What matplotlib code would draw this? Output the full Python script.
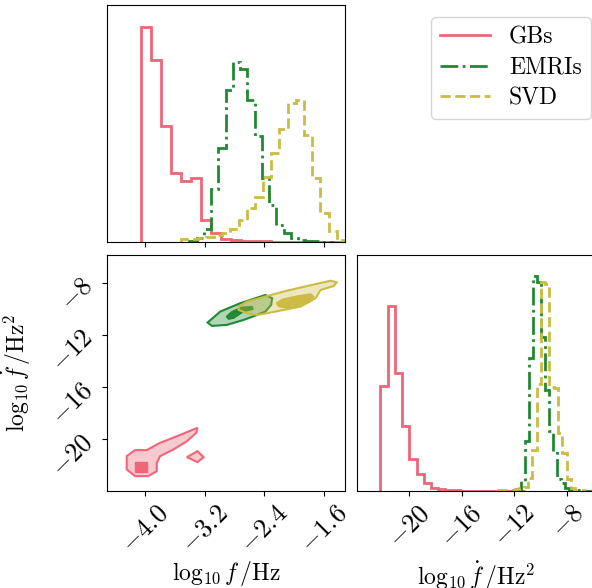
import numpy as np
import matplotlib
matplotlib.use("Agg")
import matplotlib.pyplot as plt

plt.rcParams.update({
    "font.family": "serif",
    "font.serif": ["cmr10"],
    "mathtext.fontset": "cm",
    "axes.formatter.use_mathtext": True,
    "axes.unicode_minus": False,
})

# ---------------------------------------------------------------------------
# Data
# ---------------------------------------------------------------------------

labels = ["GBs", "EMRIs", "SVD"]
colors = ["#EE6677", "#228833", "#CCBB44"]
styles = ["-", "-.", "--"]

f_ticks = [-4.0, -3.2, -2.4, -1.6]
fdot_ticks = [-20, -16, -12, -8]
f_lim = (-4.51, -1.32)
fdot_lim = (-23.95, -5.88)

# 1D histograms of log10 f (bin range, counts)
gb_f_range = (-4.058, -1.378)
gb_f_counts = [649, 547, 349, 209, 184, 192, 65, 27, 9, 5, 3, 2, 2, 1, 1, 1, 1, 0.5, 0.5, 0.5]
emri_f_range = (-3.405, -1.461)
emri_f_counts = [3, 12, 39, 159, 284, 457, 542, 522, 427, 319, 192, 112, 50, 27, 12, 5, 3, 2, 1, 1]
svd_f_range = (-3.516, -1.320)
svd_f_counts = [8, 9, 11, 15, 22, 27, 39, 67, 102, 137, 197, 267, 340, 420, 429, 322, 192, 87, 32, 7]

# 1D histograms of log10 fdot
gb_fdot_range = (-22.167, -11.207)
gb_fdot_counts = [317, 558, 355, 195, 97, 50, 23, 8, 5, 2, 2, 1, 1, 1, 1, 1, 1, 1, 0.5, 0.5]
emri_fdot_range = (-12.097, -6.08)
emri_fdot_counts = [2, 5, 30, 150, 400, 647, 630, 465, 305, 180, 120, 35, 25, 8, 4, 3, 2, 2, 1, 1]
svd_fdot_range = (-13.244, -6.743)
svd_fdot_counts = [2, 2, 2, 3, 5, 8, 12, 40, 125, 323, 630, 625, 315, 310, 175, 115, 35, 8, 3, 2]

# 2D credible contours (outer and inner region), in (log10 f, log10 fdot)
gb_outer_f = [-4.246, -4.134, -3.977, -3.798, -3.574, -3.297, -3.314, -3.439, -3.619,
              -3.798, -3.843, -3.843, -3.956, -4.134, -4.246]
gb_outer_fdot = [-21.28, -20.82, -20.82, -20.26, -19.76, -19.11, -19.50, -20.14, -20.77,
                 -21.28, -21.79, -22.43, -22.81, -22.81, -22.30]
gb_island_f = [-3.439, -3.297, -3.216, -3.297]
gb_island_fdot = [-21.36, -20.90, -21.36, -21.74]
gb_inner_f = [-4.134, -3.977, -3.977, -4.134]
gb_inner_fdot = [-21.74, -21.74, -22.50, -22.50]

emri_outer_f = [-3.162, -2.992, -2.723, -2.387, -2.296, -2.310, -2.387, -2.498, -2.678,
                -2.901, -3.103]
emri_outer_fdot = [-11.05, -10.21, -9.57, -8.94, -9.19, -9.70, -10.21, -10.47, -10.85,
                   -11.23, -11.31]
emri_inner_f = [-2.911, -2.834, -2.700, -2.565, -2.552, -2.678, -2.813, -2.880]
emri_inner_fdot = [-10.60, -10.21, -9.88, -9.83, -10.03, -10.21, -10.72, -10.79]

svd_outer_f = [-2.746, -2.633, -2.364, -2.095, -1.826, -1.513, -1.432, -1.468, -1.647,
               -1.714, -1.916, -2.095, -2.364, -2.498, -2.633, -2.746]
svd_outer_fdot = [-9.83, -9.45, -9.02, -8.61, -8.25, -7.85, -7.97, -8.25, -8.56,
                  -9.19, -9.83, -10.03, -10.34, -10.47, -10.34, -10.08]
svd_inner_f = [-2.239, -2.162, -1.960, -1.782, -1.737, -1.782, -1.916, -2.095, -2.208]
svd_inner_fdot = [-9.57, -9.27, -9.02, -8.86, -9.07, -9.45, -9.78, -9.95, -9.83]

f_hists = [(gb_f_range, gb_f_counts), (emri_f_range, emri_f_counts), (svd_f_range, svd_f_counts)]
fdot_hists = [(gb_fdot_range, gb_fdot_counts), (emri_fdot_range, emri_fdot_counts),
              (svd_fdot_range, svd_fdot_counts)]
outer_regions = [[(gb_outer_f, gb_outer_fdot), (gb_island_f, gb_island_fdot)],
                 [(emri_outer_f, emri_outer_fdot)],
                 [(svd_outer_f, svd_outer_fdot)]]
inner_regions = [[(gb_inner_f, gb_inner_fdot)],
                 [(emri_inner_f, emri_inner_fdot)],
                 [(svd_inner_f, svd_inner_fdot)]]

# ---------------------------------------------------------------------------
# Figure
# ---------------------------------------------------------------------------

fig = plt.figure(figsize=(5.92, 5.88), dpi=100)
W, H = 592, 588


def px_axes(x0, y0, x1, y1):
    return fig.add_axes([x0 / W, 1 - y1 / H, (x1 - x0) / W, (y1 - y0) / H])


ax_f = px_axes(107, 5, 345, 242)
ax_2d = px_axes(107, 255, 345, 491)
ax_fd = px_axes(357, 255, 595, 491)

TICK_FS = 19
LABEL_FS = 17


def draw_hists(ax, hists):
    top = 0
    for (rng, counts), c, ls in zip(hists, colors, styles):
        edges = np.linspace(rng[0], rng[1], len(counts) + 1)
        ax.stairs(counts, edges, color=c, linestyle=ls, linewidth=2.0, baseline=0)
        top = max(top, max(counts))
    ax.set_ylim(0, 1.1 * top)
    ax.set_yticks([])


# --- top-left: log10 f histogram ---
draw_hists(ax_f, f_hists)
ax_f.set_xlim(*f_lim)
ax_f.set_xticks(f_ticks)
ax_f.set_xticklabels([])

# --- bottom-right: log10 fdot histogram ---
draw_hists(ax_fd, fdot_hists)
ax_fd.set_xlim(*fdot_lim)
ax_fd.set_xticks(fdot_ticks)
ax_fd.set_xticklabels([f"${t}$" for t in fdot_ticks], rotation=45, fontsize=TICK_FS)
ax_fd.set_xlabel(r"$\log_{10}\dot{f}\,/\mathrm{Hz}^2$", fontsize=LABEL_FS)
ax_fd.xaxis.set_label_coords(0.5, -0.29)

# --- bottom-left: 2D contours ---
for outers, inners, c in zip(outer_regions, inner_regions, colors):
    for xs, ys in outers:
        ax_2d.fill(xs, ys, facecolor=c, alpha=0.35, edgecolor="none")
    for xs, ys in inners:
        ax_2d.fill(xs, ys, facecolor=c, edgecolor=c, linewidth=1.0)
    for xs, ys in outers:
        ax_2d.fill(xs, ys, facecolor="none", edgecolor=c, linewidth=1.5)

ax_2d.set_xlim(*f_lim)
ax_2d.set_ylim(*fdot_lim)
ax_2d.set_xticks(f_ticks)
ax_2d.set_yticks(fdot_ticks)
ax_2d.set_xticklabels([f"${t:.1f}$" for t in f_ticks], rotation=45, fontsize=TICK_FS)
ax_2d.set_yticklabels([f"${t}$" for t in fdot_ticks], rotation=45, fontsize=TICK_FS)
ax_2d.set_xlabel(r"$\log_{10}f\,/\mathrm{Hz}$", fontsize=LABEL_FS)
ax_2d.set_ylabel(r"$\log_{10}\dot{f}\,/\mathrm{Hz}^2$", fontsize=LABEL_FS)
ax_2d.xaxis.set_label_coords(0.5, -0.29)
ax_2d.yaxis.set_label_coords(-0.31, 0.5)

# --- legend ---
handles = [plt.Line2D([], [], color=c, linestyle=ls, linewidth=2.0)
           for c, ls in zip(colors, styles)]
fig.legend(handles, labels, loc="upper left", bbox_to_anchor=(431 / W, 1 - 17 / H),
           borderaxespad=0, fontsize=17, handlelength=2.1, labelspacing=0.35)

fig.savefig("out.png", dpi=100)
